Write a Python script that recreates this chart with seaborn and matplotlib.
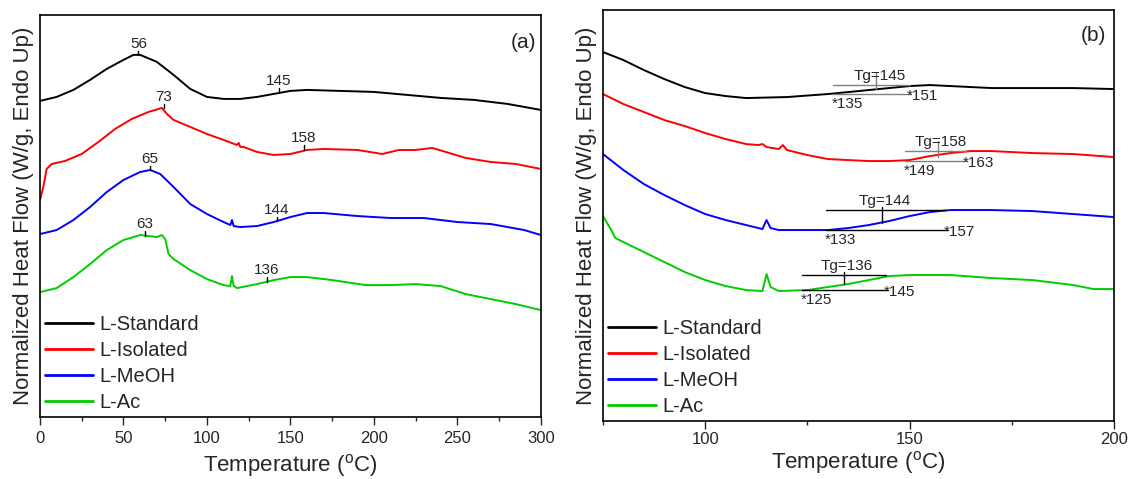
import numpy as np
import pandas as pd
import matplotlib
matplotlib.use('Agg')
import matplotlib.pyplot as plt
import seaborn as sns

# -=-=-=-=-= panel (a) : full DSC scan 0-300 C =-=-=-=-=-
a_T_std = [0, 10, 20, 30, 40, 50, 56, 60, 70, 80, 90, 100, 110, 120, 130, 140, 150, 160, 180, 200, 220, 240, 260, 280, 300]
a_std = [316, 320, 327, 337, 348, 357, 362, 362, 355, 342, 328, 320, 318, 318, 320, 323, 326, 327, 326, 325, 322, 319, 317, 313, 307]

a_T_iso = [0, 2, 4, 7, 15, 25, 35, 45, 55, 65, 73, 76, 80, 90, 100, 110, 118, 119, 120, 122, 130, 140, 150, 160, 170, 190, 205, 215, 225, 235, 245, 255, 270, 285, 300]
a_iso = [217, 230, 248, 253, 256, 263, 275, 288, 298, 305, 309, 303, 297, 290, 283, 277, 272, 274, 270, 270, 265, 262, 263, 267, 268, 267, 263, 267, 267, 269, 264, 259, 255, 253, 248]

a_T_meoh = [0, 10, 20, 30, 40, 50, 60, 66, 72, 80, 90, 100, 110, 114, 115, 116, 120, 130, 140, 150, 160, 170, 190, 210, 230, 250, 270, 290, 300]
a_meoh = [183, 187, 197, 210, 225, 237, 245, 247, 243, 230, 213, 203, 195, 192, 197, 191, 190, 191, 195, 200, 204, 204, 201, 199, 199, 195, 193, 187, 182]

a_T_ac = [0, 10, 20, 30, 40, 50, 60, 65, 70, 73, 75, 77, 80, 90, 100, 110, 114, 115, 116, 118, 130, 140, 150, 160, 175, 195, 210, 225, 240, 255, 270, 285, 300]
a_ac = [125, 129, 140, 153, 167, 177, 182, 181, 180, 182, 178, 163, 158, 147, 138, 132, 131, 141, 131, 129, 133, 137, 140, 140, 137, 132, 132, 133, 131, 123, 118, 113, 107]

# peak / Tg labels on panel (a): text, x, curve height, text height
a_marks = ['56', '145', '73', '158', '65', '144', '63', '136']
a_mark_x = [59, 143, 74, 158, 66, 142, 63, 136]
a_mark_y = [362, 325, 309, 267, 247, 196, 181, 135]
a_mark_ty = [366, 329, 313, 272, 251, 200, 186, 140]

# -=-=-=-=-= panel (b) : zoom 75-200 C =-=-=-=-=-
b_T_std = [75, 80, 85, 90, 95, 100, 105, 110, 120, 130, 135, 140, 145, 150, 155, 160, 170, 180, 190, 200]
b_std = [369, 361, 351, 342, 334, 328, 325, 323, 324, 327, 329, 331, 333, 335, 336, 335, 333, 333, 333, 332]

b_T_iso = [75, 80, 85, 90, 95, 100, 105, 110, 113, 114, 115, 118, 119, 120, 125, 130, 135, 140, 145, 150, 155, 160, 165, 170, 180, 190, 200]
b_iso = [327, 317, 309, 301, 295, 288, 282, 277, 276, 277, 274, 272, 276, 271, 266, 262, 261, 260, 260, 261, 265, 268, 270, 270, 268, 267, 264]

b_T_meoh = [75, 80, 85, 90, 95, 100, 105, 110, 114, 115, 116, 118, 125, 130, 135, 140, 145, 150, 155, 160, 170, 180, 190, 200]
b_meoh = [267, 251, 237, 226, 216, 207, 201, 196, 192, 201, 193, 191, 191, 191, 193, 196, 200, 205, 209, 211, 211, 210, 207, 204]

b_T_ac = [75, 77, 78, 80, 85, 90, 95, 100, 105, 110, 114, 115, 116, 118, 125, 130, 135, 140, 145, 150, 160, 170, 180, 190, 195, 200]
b_ac = [205, 191, 183, 179, 169, 159, 149, 141, 135, 131, 130, 147, 134, 130, 131, 134, 137, 141, 145, 146, 146, 143, 141, 136, 132, 132]

# Tg constructions: onset, end, upper line y, lower line y, Tg x, tick bottom y, Tg label, onset label, end label
tg_onset = [131.3, 148.9, 129.5, 123.6]
tg_end = [150.0, 163.7, 158.9, 144.3]
tg_upper = [336, 270, 211, 146]
tg_lower = [327, 260, 191, 131]
tg_x = [141.9, 156.9, 143.2, 133.9]
tg_tick_top = [346, 277, 211, 146]
tg_tick_bot = [332, 264, 198, 137]
tg_text = ['Tg=145', 'Tg=158', 'Tg=144', 'Tg=136']
tg_on_text = ['*135', '*149', '*133', '*125']
tg_end_text = ['*151', '*163', '*157', '*145']
tg_colors = ['#808080', '#808080', 'black', 'black']

names = ['L-Standard', 'L-Isolated', 'L-MeOH', 'L-Ac']
colors = ['black', '#ff0000', '#0000ff', '#00cc00']

sns.set_style('ticks')
plt.rcParams['font.family'] = ['Liberation Sans', 'DejaVu Sans']
plt.rcParams['mathtext.fontset'] = 'custom'
plt.rcParams['mathtext.rm'] = 'Liberation Sans'

fig = plt.figure(figsize=(11.29, 4.79), dpi=100)
ax1 = fig.add_axes([0.0354, 0.129, 0.4437, 0.840])
ax2 = fig.add_axes([0.5341, 0.121, 0.4526, 0.858])

a_sets = [(a_T_std, a_std), (a_T_iso, a_iso), (a_T_meoh, a_meoh), (a_T_ac, a_ac)]
b_sets = [(b_T_std, b_std), (b_T_iso, b_iso), (b_T_meoh, b_meoh), (b_T_ac, b_ac)]

for (t, y), n, c in zip(a_sets, names, colors):
    sns.lineplot(x=t, y=y, ax=ax1, color=c, label=n, linewidth=1.4)
for (t, y), n, c in zip(b_sets, names, colors):
    sns.lineplot(x=t, y=y, ax=ax2, color=c, label=n, linewidth=1.4)

# panel (a) labels
for s, x, y, ty in zip(a_marks, a_mark_x, a_mark_y, a_mark_ty):
    ax1.plot([x, x], [y, ty], color='black', lw=1)
    ax1.text(x, ty, s, ha='center', va='bottom', fontsize=11)

# panel (b) Tg constructions
for i in range(4):
    c = tg_colors[i]
    ax2.plot([tg_onset[i], tg_end[i]], [tg_upper[i], tg_upper[i]], color=c, lw=1)
    ax2.plot([tg_onset[i], tg_end[i] + 0.4], [tg_lower[i], tg_lower[i]], color=c, lw=1)
    ax2.plot([tg_x[i], tg_x[i]], [tg_tick_bot[i], tg_tick_top[i] + 3], color=c, lw=1)
    ax2.text(tg_x[i] + 0.8, tg_upper[i] + 2, tg_text[i], ha='center', va='bottom', fontsize=11)
    ax2.text(tg_onset[i] - 0.3, tg_lower[i] - 3, tg_on_text[i], ha='left', va='top', fontsize=11)
    ax2.text(tg_end[i] - 0.6, tg_lower[i] + 5, tg_end_text[i], ha='left', va='top', fontsize=11)

ax1.set_xlim(0, 300)
ax1.set_ylim(0, 402)
ax1.set_xticks(np.arange(0, 301, 50))
ax1.set_xticks(np.arange(25, 300, 50), minor=True)
ax2.set_xlim(75, 200)
ax2.set_ylim(0, 411)
ax2.set_xticks([100, 150, 200])
ax2.set_xticks([75, 125, 175], minor=True)

ax1.text(0.99, 0.955, '(a)', transform=ax1.transAxes, ha='right', va='top', fontsize=15)
ax2.text(0.985, 0.96, '(b)', transform=ax2.transAxes, ha='right', va='top', fontsize=15)

for ax, lp, tp in ((ax1, 4, 4), (ax2, 1, 2)):
    ax.set_yticks([])
    ax.set_xlabel(r'Temperature ($\mathregular{^o}$C)', fontsize=16, labelpad=lp)
    ax.set_ylabel('Normalized Heat Flow (W/g, Endo Up)', fontsize=16, labelpad=4)
    ax.tick_params(axis='x', which='major', direction='out', length=6, width=1, labelsize=12, pad=tp)
    ax.tick_params(axis='x', which='minor', direction='out', length=3, width=1)
    for sp in ax.spines.values():
        sp.set_visible(True)
        sp.set_linewidth(1.2)
        sp.set_color('black')
    leg = ax.legend(loc='lower left', frameon=False, fontsize=14.5, handlelength=2.4,
                    handletextpad=0.3, labelspacing=0.35, borderpad=0.1, borderaxespad=0.15)
    for h in leg.get_lines():
        h.set_linewidth(2)

fig.savefig('out.png', dpi=100, facecolor='white')
